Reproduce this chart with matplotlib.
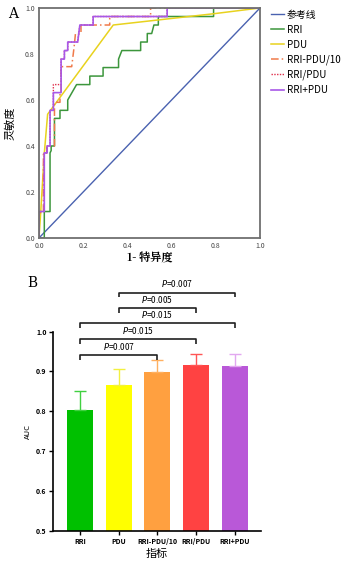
import matplotlib.pyplot as plt
import numpy as np

plt.rcParams['font.family'] = ['Noto Sans CJK SC', 'DejaVu Sans']

# ROC curves (1-specificity, sensitivity)
rri_x = [0, 0.024, 0.024, 0.05, 0.05, 0.055, 0.055, 0.07, 0.07, 0.095, 0.095, 0.13, 0.13, 0.17, 0.23, 0.23, 0.29, 0.29,
         0.36, 0.36, 0.375, 0.46, 0.46, 0.49, 0.49, 0.51, 0.52, 0.54, 0.54, 0.79, 0.79, 1.0]
rri_y = [0, 0, 0.115, 0.115, 0.37, 0.38, 0.40, 0.40, 0.52, 0.52, 0.555, 0.555, 0.60, 0.667, 0.667, 0.704, 0.704, 0.741,
         0.741, 0.778, 0.815, 0.815, 0.852, 0.852, 0.889, 0.889, 0.926, 0.926, 0.963, 0.963, 1.0, 1.0]
pdu_x = [0, 0.008, 0.024, 0.039, 0.336, 0.79, 1.0]
pdu_y = [0, 0.115, 0.368, 0.538, 0.926, 0.975, 1.0]
div10_x = [0, 0, 0.02, 0.02, 0.035, 0.035, 0.07, 0.07, 0.095, 0.095, 0.1, 0.1, 0.148, 0.155, 0.16, 0.165, 0.19, 0.19,
           0.32, 0.32, 0.505, 0.505, 1.0]
div10_y = [0, 0.11, 0.11, 0.37, 0.37, 0.40, 0.40, 0.59, 0.59, 0.63, 0.63, 0.745, 0.745, 0.80, 0.84, 0.889, 0.889, 0.926,
           0.926, 0.963, 0.963, 1.0, 1.0]
ratio_x = [0, 0, 0.024, 0.024, 0.037, 0.037, 0.05, 0.05, 0.065, 0.065, 0.1, 0.1, 0.115, 0.115, 0.13, 0.13, 0.175, 0.18,
           0.185, 0.245, 0.245, 0.58, 0.58, 1.0]
ratio_y = [0, 0.115, 0.115, 0.37, 0.37, 0.40, 0.40, 0.555, 0.555, 0.667, 0.667, 0.778, 0.778, 0.815, 0.815, 0.852, 0.852,
           0.889, 0.926, 0.926, 0.963, 0.963, 1.0, 1.0]
sum_x = [0, 0, 0.024, 0.024, 0.037, 0.037, 0.05, 0.05, 0.065, 0.065, 0.1, 0.1, 0.115, 0.115, 0.13, 0.13, 0.175, 0.18,
         0.185, 0.245, 0.245, 0.58, 0.58, 1.0]
sum_y = [0, 0.115, 0.115, 0.37, 0.37, 0.40, 0.40, 0.555, 0.555, 0.632, 0.632, 0.778, 0.778, 0.815, 0.815, 0.852, 0.852,
         0.889, 0.926, 0.926, 0.963, 0.963, 1.0, 1.0]

# AUC bars
groups = ['RRI', 'PDU', 'RRI-PDU/10', 'RRI/PDU', 'RRI+PDU']
auc = [0.803, 0.867, 0.899, 0.915, 0.914]
auc_err = [0.049, 0.038, 0.031, 0.030, 0.031]
bar_colors = ['#00c000', '#ffff00', '#ffa040', '#ff4242', '#b958d8']
err_colors = ['#40d040', '#f2f040', '#ffb060', '#ff5555', '#e2a8f0']
# comparisons: (i, j, bracket height, label)
comps = [(0, 2, 0.941, 'P=0.007'), (0, 3, 0.981, 'P=0.015'), (0, 4, 1.021, 'P=0.015'),
         (1, 3, 1.059, 'P=0.005'), (1, 4, 1.098, 'P=0.007')]

fig = plt.figure(figsize=(3.46, 5.63), dpi=100)

# ---- panel A ----
ax1 = fig.add_axes([0.1127, 0.5773, 0.6387, 0.4085])
ax1.plot([0, 1], [0, 1], color='#4a62b0', lw=1.0, label='参考线')
ax1.plot(rri_x, rri_y, color='#3c963c', lw=1.1, label='RRI')
ax1.plot(pdu_x, pdu_y, color='#e8d21e', lw=1.1, label='PDU')
ax1.plot(div10_x, div10_y, color='#f07a4a', lw=1.1, ls=(0, (5, 2, 1, 2)), label='RRI-PDU/10')
ax1.plot(ratio_x, ratio_y, color='#e0304c', lw=1.0, ls=(0, (1, 1)), label='RRI/PDU')
ax1.plot(sum_x, sum_y, color='#a858e8', lw=1.2, label='RRI+PDU')
ax1.set_xlim(0, 1)
ax1.set_ylim(0, 1)
ax1.set_xticks(np.arange(0, 1.01, 0.2))
ax1.set_yticks(np.arange(0, 1.01, 0.2))
ax1.set_xticklabels(['%.1f' % v for v in np.arange(0, 1.01, 0.2)], fontsize=5, color='#444444')
ax1.set_yticklabels(['%.1f' % v for v in np.arange(0, 1.01, 0.2)], fontsize=5, color='#444444')
ax1.tick_params(length=0, pad=3)
for s in ax1.spines.values():
    s.set_color('#707070')
    s.set_linewidth(1.3)
ax1.set_xlabel('1- 特异度', fontsize=8, fontweight='bold', labelpad=2,
               family=['Noto Serif CJK SC', 'Noto Sans CJK SC', 'DejaVu Serif'])
ax1.set_ylabel('灵敏度', fontsize=8, labelpad=7)
ax1.legend(loc='upper left', bbox_to_anchor=(1.03, 1.01), frameon=False, fontsize=7.1,
           handlelength=1.4, handletextpad=0.25, labelspacing=0.5, borderaxespad=0)
fig.text(0.022, 0.975, 'A', fontsize=10, family='DejaVu Serif', va='center')

# ---- panel B ----
ax2 = fig.add_axes([0.1546, 0.0574, 0.5997, 0.3535])
x = np.arange(len(groups))
ax2.bar(x, auc, width=0.67, color=bar_colors, bottom=0)
for i in range(len(groups)):
    ax2.errorbar(x[i], auc[i], yerr=[[0], [auc_err[i]]], color=err_colors[i], lw=1.0, capsize=4, capthick=1.0)
ax2.set_xlim(-0.68, 4.67)
ax2.set_ylim(0.5, 1.0)
ax2.set_yticks([0.5, 0.6, 0.7, 0.8, 0.9, 1.0])
ax2.set_yticklabels(['0.5', '0.6', '0.7', '0.8', '0.9', '1.0'], fontsize=5, fontweight='bold')
ax2.set_xticks(x)
ax2.set_xticklabels(groups, fontsize=5, fontweight='bold')
ax2.tick_params(length=3, width=1, pad=2)
for s in ['top', 'right']:
    ax2.spines[s].set_visible(False)
for s in ['left', 'bottom']:
    ax2.spines[s].set_linewidth(1.2)
ax2.set_ylabel('AUC', fontsize=5.5, labelpad=3)
ax2.set_xlabel('指标', fontsize=8, labelpad=3)
for i, j, h, lab in comps:
    ax2.plot([x[i], x[i], x[j], x[j]], [h - 0.012, h, h, h - 0.012], color='#202020', lw=1.2,
             clip_on=False, solid_capstyle='butt')
    ax2.text((x[i] + x[j]) / 2, h + 0.008, r'$\mathit{P}$' + lab[1:], fontsize=6, ha='center', va='bottom',
             clip_on=False)
fig.text(0.078, 0.497, 'B', fontsize=10, family='DejaVu Serif', va='center')

fig.savefig('out.png', dpi=100)
